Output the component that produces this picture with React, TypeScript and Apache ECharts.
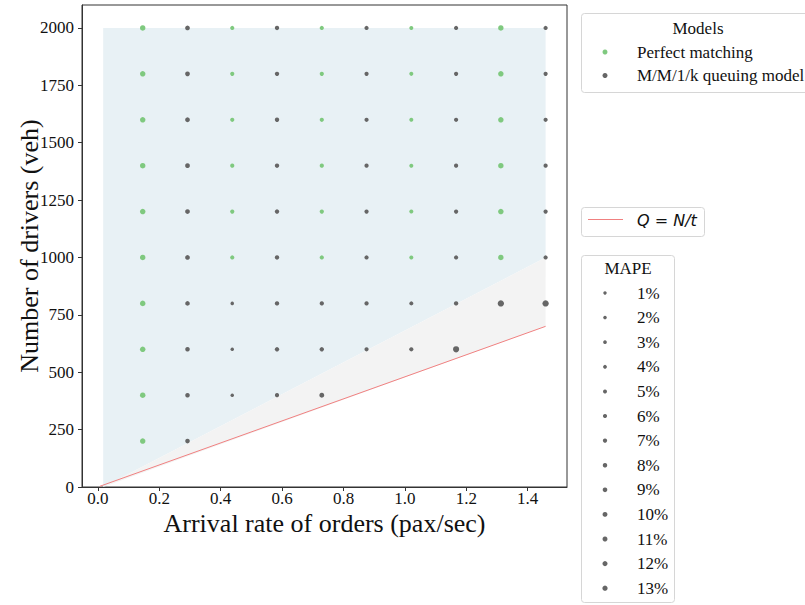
import React, { useEffect, useRef } from "react";
import * as echarts from "echarts";

// ---- data ----
const arrivalRates = [0.1458, 0.2917, 0.4375, 0.5833, 0.7292, 0.875, 1.0208, 1.1667, 1.3125, 1.4583];
const driverCounts = [200, 400, 600, 800, 1000, 1200, 1400, 1600, 1800, 2000];
const xTicks = [0, 0.2, 0.4, 0.6, 0.8, 1.0, 1.2, 1.4];
const yTicks = [0, 250, 500, 750, 1000, 1250, 1500, 1750, 2000];

// MAPE (%) per driver row (rows follow driverCounts), columns follow arrivalRates; null = no point
const perfectMatchingMape: (number | null)[][] = [
  [12, null, null, null, null, null, null, null, null, null],
  [12, null, null, null, null, null, null, null, null, null],
  [12, null, null, null, null, null, null, null, null, null],
  [12, null, null, null, null, null, null, null, null, null],
  [12, null, 5, null, 5, null, 4, null, 12, null],
  [12, null, 5, null, 5, null, 4, null, 12, null],
  [12, null, 5, null, 5, null, 4, null, 12, null],
  [12, null, 5, null, 5, null, 4, null, 12, null],
  [12, null, 5, null, 5, null, 4, null, 12, null],
  [12, null, 5, null, 5, null, 4, null, 12, null],
];
const queuingMape: (number | null)[][] = [
  [null, 7, null, null, null, null, null, null, null, null],
  [null, 7, 1, 5, 9, null, null, null, null, null],
  [null, 7, 1, 6, 6, 5, 5, 16, null, null],
  [null, 7, 1, 6, 5, 5, 4, 6, 17, 17],
  [null, 8, null, 6, null, 5, null, 5, null, 5],
  [null, 8, null, 6, null, 5, null, 5, null, 5],
  [null, 8, null, 6, null, 5, null, 5, null, 5],
  [null, 8, null, 6, null, 5, null, 5, null, 5],
  [null, 8, null, 6, null, 5, null, 5, null, 5],
  [null, 8, null, 6, null, 5, null, 5, null, 5],
];

// shaded regions and the Q = N/t line
const feasibleRegion = [[0.017, 0], [1.4583, 1000], [1.4583, 2000], [0.017, 2000]];
const marginalRegion = [[0.017, 0], [1.4583, 700], [1.4583, 1000]];
const capacityLine = [[0.006, 3], [1.4583, 700]];

const modelNames = ["Perfect matching", "M/M/1/k queuing model"];
const mapeLevels = [1, 2, 3, 4, 5, 6, 7, 8, 9, 10, 11, 12, 13];

const GREEN = "#7fc97f";
const GREY = "#666666";
const SERIF = "Liberation Serif";
const TXT = "#111";

const sizeOf = (m: number) => 3.3 + 0.18 * m;

const toPoints = (matrix: (number | null)[][]) => {
  const out: number[][] = [];
  matrix.forEach((row, i) =>
    row.forEach((m, j) => {
      if (m != null) out.push([arrivalRates[j], driverCounts[i], m]);
    })
  );
  return out;
};

const polygonSeries = (pts: number[][], color: string, z: number) => ({
  type: "custom",
  data: pts,
  z,
  silent: true,
  renderItem: (params: any, api: any) => {
    if (params.dataIndex !== 0) return null;
    return {
      type: "polygon",
      shape: { points: pts.map((p) => api.coord(p)) },
      style: { fill: color, stroke: "none" },
    };
  },
});

function textEl(text: string, x: number, y: number, size: number, align: string, extra: any = {}) {
  const va = extra.va || "middle";
  return {
    type: "text",
    x,
    y,
    silent: true,
    z: 10,
    style: {
      text,
      fill: TXT,
      font: `${extra.italic ? "italic " : ""}${size}px ${extra.family || '"Liberation Serif"'}`,
      align,
      verticalAlign: va,
      textAlign: align,
      textVerticalAlign: va,
    },
  };
}

export default function App() {
  const ref = useRef<HTMLDivElement>(null);
  useEffect(() => {
    if (!ref.current) return;
    const chart = echarts.init(ref.current, null, { renderer: "svg" });

    chart.setOption({
      animation: false,
      backgroundColor: "#fff",
      textStyle: { fontFamily: SERIF },
      grid: { left: 82, right: 238, top: 5, bottom: 118, show: true, borderColor: "#333", borderWidth: 1, backgroundColor: "transparent" },
      xAxis: {
        type: "value",
        min: -0.052,
        max: 1.528,
        name: "Arrival rate of orders (pax/sec)",
        nameLocation: "middle",
        nameGap: 23,
        nameTextStyle: { fontFamily: SERIF, fontSize: 26, color: TXT, lineHeight: 26 },
        axisLine: { show: true, onZero: false, lineStyle: { color: "#333", width: 1 } },
        axisTick: { show: true, length: 4, inside: false, customValues: xTicks, lineStyle: { color: "#333" } },
        axisLabel: { show: false },
        splitLine: { show: false },
      },
      yAxis: {
        type: "value",
        min: 0,
        max: 2100,
        name: "Number of drivers (veh)",
        nameLocation: "middle",
        nameGap: 40,
        nameTextStyle: { fontFamily: SERIF, fontSize: 26, color: TXT },
        axisLine: { show: true, onZero: false, lineStyle: { color: "#333", width: 1 } },
        axisTick: { show: true, length: 4, inside: false, customValues: yTicks, lineStyle: { color: "#333" } },
        axisLabel: { show: false },
        splitLine: { show: false },
      },
      series: [
        polygonSeries(feasibleRegion, "#e8f1f5", 1),
        polygonSeries(marginalRegion, "#f3f3f3", 1),
        {
          type: "line",
          data: capacityLine,
          symbol: "none",
          z: 2,
          silent: true,
          lineStyle: { color: "#f08080", width: 1 },
        },
        {
          type: "scatter",
          name: modelNames[0],
          data: toPoints(perfectMatchingMape),
          z: 3,
          symbolSize: (v: number[]) => sizeOf(v[2]),
          itemStyle: { color: GREEN, opacity: 1 },
        },
        {
          type: "scatter",
          name: modelNames[1],
          data: toPoints(queuingMape),
          z: 3,
          symbolSize: (v: number[]) => sizeOf(v[2]),
          itemStyle: { color: GREY, opacity: 1 },
        },
      ],
    });

    const graphics: any[] = [];
    // tick labels positioned through the axes' own scales
    xTicks.forEach((v) => {
      const p = chart.convertToPixel({ gridIndex: 0 }, [v, 0]) as number[];
      graphics.push(textEl(v.toFixed(1), p[0], p[1] + 11, 17, "center"));
    });
    yTicks.forEach((v) => {
      const p = chart.convertToPixel({ gridIndex: 0 }, [-0.052, v]) as number[];
      graphics.push(textEl(String(v), p[0] - 8, p[1], 17, "right"));
    });

    const boxStyle = { fill: "#fff", stroke: "#d6d6d6", lineWidth: 1 };
    // Models legend
    graphics.push({ type: "rect", shape: { x: 581.5, y: 13.5, width: 240, height: 79, r: 3 }, style: boxStyle, silent: true });
    graphics.push(textEl("Models", 698, 28, 17, "center"));
    const modelColors = [GREEN, GREY];
    modelNames.forEach((n, i) => {
      const y = 52 + i * 23.5;
      graphics.push({ type: "circle", shape: { cx: 605, cy: y, r: 2.5 }, style: { fill: modelColors[i] }, silent: true });
      graphics.push(textEl(n, 637, y, 17, "left"));
    });
    // Q = N/t legend
    graphics.push({ type: "rect", shape: { x: 581.5, y: 207.5, width: 123, height: 29, r: 3 }, style: boxStyle, silent: true });
    graphics.push({ type: "line", shape: { x1: 588, y1: 219.5, x2: 623, y2: 219.5 }, style: { stroke: "#f08080", lineWidth: 1 }, silent: true });
    graphics.push(textEl("Q = N/t", 637, 220, 16, "left", { italic: true, family: '"DejaVu Sans", sans-serif' }));
    // MAPE legend
    graphics.push({ type: "rect", shape: { x: 581.5, y: 255.5, width: 93, height: 347, r: 3 }, style: boxStyle, silent: true });
    graphics.push(textEl("MAPE", 628, 268, 17, "center"));
    mapeLevels.forEach((m, i) => {
      const y = 293 + i * 24.6;
      graphics.push({ type: "circle", shape: { cx: 605, cy: y, r: 1.6 + 0.08 * m }, style: { fill: GREY }, silent: true });
      graphics.push(textEl(`${m}%`, 637, y, 17, "left"));
    });

    chart.setOption({ graphic: graphics });
    return () => chart.dispose();
  }, []);
  return <div ref={ref} style={{ position: "fixed", left: 0, top: 0, width: 805, height: 605 }} />;
}
